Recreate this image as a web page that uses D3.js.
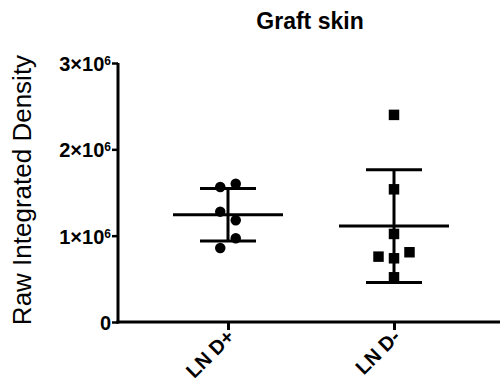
<!DOCTYPE html>
<meta charset="utf-8">
<script src="https://cdn.jsdelivr.net/npm/d3@7"></script>
<style>
    body { margin: 0; background: #fff; }
    text { font-family: "Liberation Sans", Arial, sans-serif; fill: #000; }
</style>
<svg width="500" height="383" class="chart"></svg>
<script>

var groups = ["LN D+", "LN D-"];
var symbols = ["circle", "square"];

// values in units of 10^6
var lnDplus  = [1.564, 1.602, 1.278, 1.178, 0.970, 0.857];
var lnDminus = [2.399, 1.537, 1.020, 0.757, 0.738, 0.808, 0.518];

// horizontal scatter slot of each point (-1 left, 0 centre, 1 right)
var jitterDplus  = [-0.5, 0.5, -0.5, 0.5, 0.5, -0.5];
var jitterDminus = [0, 0, 0, -1, 0, 1, 0];

var yTicks = [0, 1, 2, 3];

var series = [
    {name: groups[0], values: lnDplus,  slots: jitterDplus,  symbol: symbols[0]},
    {name: groups[1], values: lnDminus, slots: jitterDminus, symbol: symbols[1]}
];

var svg = d3.select("svg.chart"),
    margin = {top: 63, right: 0, bottom: 61, left: 118},
    width = +svg.attr("width") - margin.left - margin.right,
    height = +svg.attr("height") - margin.top - margin.bottom;

var x = d3.scalePoint()
    .domain(groups)
    .range([110, 276]);

var y = d3.scaleLinear()
    .domain([0, 3])
    .range([height, 0]);

var g = svg.append("g")
    .attr("transform", "translate(" + margin.left + "," + margin.top + ")");

// y axis
var yAxis = g.append("g")
    .call(d3.axisLeft(y).tickValues(yTicks).tickSize(6).tickFormat(""));
yAxis.select(".domain").attr("stroke-width", 3).attr("d", "M0," + (height + 1.5) + "V0");
yAxis.selectAll(".tick line").attr("stroke-width", 2.5);

var yLab = yAxis.selectAll(".tick").append("text")
    .attr("x", -7)
    .attr("dy", "0.38em")
    .attr("text-anchor", "end")
    .style("font-size", "20px")
    .style("font-weight", "bold");
yLab.each(function(d) {
    var t = d3.select(this);
    if (d === 0) { t.text("0"); return; }
    t.append("tspan").text(d + "×10");
    t.append("tspan").attr("dy", "-0.5em").style("font-size", "12px").text("6");
});

// x axis
var xAxis = g.append("g")
    .attr("transform", "translate(0," + height + ")")
    .call(d3.axisBottom(x).tickSize(8).tickFormat(""));
xAxis.select(".domain").attr("stroke-width", 3).attr("d", "M-1.5,0H" + width);
xAxis.selectAll(".tick line").attr("stroke-width", 3);
xAxis.selectAll(".tick").append("text")
    .attr("text-anchor", "end")
    .attr("transform", "translate(7,16) rotate(-45)")
    .style("font-size", "20px")
    .style("font-weight", "bold")
    .text(function(d) { return d; });

// title and y label
svg.append("text")
    .attr("x", 310)
    .attr("y", 29)
    .attr("text-anchor", "middle")
    .style("font-size", "23px")
    .style("font-weight", "bold")
    .text("Graft skin");

svg.append("text")
    .attr("transform", "translate(31,190) rotate(-90)")
    .attr("text-anchor", "middle")
    .style("font-size", "26px")
    .text("Raw Integrated Density");

// mean ± SD
var stats = g.selectAll("g.stat")
    .data(series)
    .enter().append("g")
    .attr("class", "stat")
    .attr("transform", function(d) { return "translate(" + x(d.name) + ",0)"; })
    .each(function(d) {
        var m = d3.mean(d.values), s = d3.deviation(d.values);
        var sel = d3.select(this);
        sel.append("line").attr("x1", -55).attr("x2", 55).attr("y1", y(m)).attr("y2", y(m));
        sel.append("line").attr("x1", 0).attr("x2", 0).attr("y1", y(m + s)).attr("y2", y(m - s));
        sel.append("line").attr("x1", -28).attr("x2", 28).attr("y1", y(m + s)).attr("y2", y(m + s));
        sel.append("line").attr("x1", -28).attr("x2", 28).attr("y1", y(m - s)).attr("y2", y(m - s));
    });
stats.selectAll("line").attr("stroke", "#000").attr("stroke-width", 3);

// points
var pts = g.selectAll("g.pts")
    .data(series)
    .enter().append("g")
    .attr("class", "pts")
    .attr("transform", function(d) { return "translate(" + x(d.name) + ",0)"; });

pts.selectAll("path")
    .data(function(d) {
        return d.values.map(function(v, i) { return {v: v, slot: d.slots[i], symbol: d.symbol}; });
    })
    .enter().append("path")
    .attr("d", function(d) {
        return d3.symbol().type(d.symbol === "circle" ? d3.symbolCircle : d3.symbolSquare).size(d.symbol === "circle" ? 86 : 110)();
    })
    .attr("transform", function(d) { return "translate(" + (d.slot * 15.5) + "," + y(d.v) + ")"; })
    .attr("fill", "#000");

</script>
